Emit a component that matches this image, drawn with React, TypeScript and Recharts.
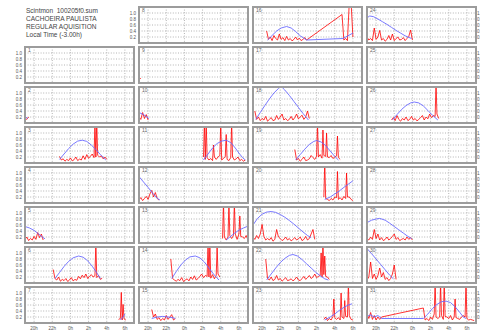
import { LineChart, Line, XAxis, YAxis, CartesianGrid } from "recharts";

type Seg = [number, number[]];
type Pt = [number, number];

// S4 samples every 0.2 h (hours after midnight written as 24+), tall spikes kept apart
const STEP = 0.2;
const HOUR_TICKS = [20, 22, 24, 26, 28, 30];
const S4_TICKS = [0.2, 0.4, 0.6, 0.8, 1.0];
const HEADER = ["Scintmon  100205f0.sum", "CACHOEIRA PAULISTA", "REGULAR AQUISITION", "Local Time (-3.00h)"];

const red2: Seg[] = [[19.0, [0.18, 0.12, 0.2]]];
const blue2: Pt[] = [[19.0, 0.22], [19.3, 0.15]];

const red3: Seg[] = [[22.8, [0.22, 0.1, 0.14, 0.06, 0.12, 0.08, 0.17, 0.07, 0.11, 0.2, 0.08, 0.13, 0.1, 0.24, 0.12, 0.28, 0.16, 0.22, 0.3, 0.18, 0.2, 0.26, 0.2, 0.24, 0.14, 0.2, 0.12]]];
const spikes3: Pt[] = [[26.7, 1.35], [26.9, 1.35]];
const blue3: Pt[] = [[22.8, 0.12], [23.3, 0.3], [23.8, 0.48], [24.3, 0.63], [24.8, 0.73], [25.3, 0.76], [25.8, 0.72], [26.3, 0.6], [26.8, 0.45], [27.3, 0.28], [27.9, 0.1]];

const red5: Seg[] = [[19.0, [0.12, 0.2, 0.08, 0.15, 0.1, 0.22, 0.12, 0.35, 0.18, 0.3, 0.1]]];
const blue5: Pt[] = [[19.0, 0.55], [19.5, 0.5], [20.0, 0.42], [20.5, 0.3], [21.0, 0.18], [21.2, 0.14]];

const red6: Seg[] = [[22.1, [0.45, 0.15, 0.1, 0.2, 0.06, 0.12, 0.08, 0.15, 0.05, 0.1, 0.18, 0.07, 0.12, 0.09, 0.22, 0.14, 0.26, 0.18, 0.3, 0.15, 0.22, 0.28, 0.2, 0.24, 0.18, 0.25, 0.12, 0.16]]];
const spikes6: Pt[] = [[26.8, 1.35]];
const blue6: Pt[] = [[22.3, 0.15], [22.8, 0.35], [23.3, 0.55], [23.8, 0.72], [24.3, 0.84], [24.9, 0.9], [25.4, 0.86], [25.9, 0.74], [26.4, 0.56], [26.9, 0.34], [27.3, 0.15]];

const red7: Seg[] = [[29.3, [0.12, 0.15, 0.1, 0.14, 0.1]]];
const spikes7: Pt[] = [[29.6, 1.02], [29.8, 0.62]];
const blue7: Pt[] = [[29.5, 0.1], [29.8, 0.2], [30.0, 0.3]];

const red9: Seg[] = [[19.0, [0.2, 0.14]]];

const red10: Seg[] = [[19.0, [0.2, 0.12, 0.35, 0.15, 0.28, 0.1]]];
const blue10: Pt[] = [[19.0, 0.35], [19.5, 0.28], [20.1, 0.15]];

const red11: Seg[] = [[26.1, [0.2, 0.12, 0.18, 0.1, 0.15, 0.08, 0.2, 0.12, 0.2, 0.25, 0.1, 0.15, 0.22, 0.12, 0.08, 0.18, 0.2, 0.1, 0.14, 0.2, 0.08, 0.12, 0.06, 0.1]]];
const spikes11: Pt[] = [[26.2, 1.35], [26.4, 1.35], [27.2, 0.6], [28.0, 1.35], [28.6, 0.95], [29.2, 1.35]];
const blue11: Pt[] = [[26.1, 0.1], [26.6, 0.3], [27.1, 0.5], [27.6, 0.65], [28.1, 0.73], [28.6, 0.76], [29.1, 0.68], [29.6, 0.5], [30.0, 0.33], [30.4, 0.18], [30.7, 0.1]];

const red12: Seg[] = [[19.0, [0.1, 0.18, 0.08, 0.15, 0.22, 0.12, 0.3, 0.42, 0.2, 0.35, 0.15, 0.1]]];
const blue12: Pt[] = [[19.0, 0.88], [19.5, 0.7], [20.0, 0.52], [20.5, 0.33], [21.0, 0.16], [21.3, 0.1]];

const red13: Seg[] = [[28.2, [0.15, 0.2, 0.1, 0.2, 0.25, 0.15, 0.25, 0.3, 0.12, 0.3, 0.22, 0.2, 0.15, 0.25, 0.1]]];
const spikes13: Pt[] = [[28.3, 1.35], [28.9, 1.35], [29.5, 1.35], [30.1, 0.9]];
const blue13: Pt[] = [[28.6, 0.1], [29.0, 0.2], [29.5, 0.32], [30.0, 0.43], [30.5, 0.5], [30.9, 0.55]];

const red14: Seg[] = [[22.5, [0.8, 0.15, 0.1, 0.06, 0.12, 0.08, 0.18, 0.05, 0.1, 0.14, 0.07, 0.2, 0.12, 0.24, 0.1, 0.15, 0.22, 0.3, 0.18, 0.25, 0.22, 0.2, 0.16, 0.28, 0.14, 0.25, 0.3, 0.2]]];
const spikes14: Pt[] = [[26.6, 1.35], [26.8, 1.35], [27.6, 1.2]];
const blue14: Pt[] = [[22.6, 0.15], [23.1, 0.38], [23.6, 0.6], [24.1, 0.76], [24.6, 0.87], [25.2, 0.9], [25.7, 0.84], [26.2, 0.7], [26.7, 0.5], [27.2, 0.3], [27.8, 0.1]];

const red15: Seg[] = [[20.4, [0.45, 0.2, 0.3, 0.12, 0.18, 0.08, 0.15, 0.1, 0.25, 0.12, 0.2, 0.28, 0.1, 0.15]]];
const blue15: Pt[] = [[20.4, 0.15], [21.0, 0.2], [21.6, 0.22], [22.2, 0.2], [22.8, 0.17], [23.0, 0.15]];

const red16: Seg[] = [
  [20.5, [0.4, 0.12, 0.2, 0.08, 0.25, 0.15, 0.1, 0.3, 0.12, 0.18, 0.08, 0.22, 0.1, 0.15, 0.07, 0.12, 0.2, 0.1, 0.16, 0.08, 0.12, 0.18, 0.1]],
  [28.8, [0.95, 0.1, 0.15, 0.08, 1.35, 1.35, 0.2]],
];
const blue16: Pt[] = [[20.6, 0.1], [21.1, 0.25], [21.6, 0.4], [22.1, 0.5], [22.7, 0.55], [23.2, 0.5], [23.7, 0.38], [24.2, 0.24], [24.9, 0.1], [28.9, 0.15], [30.0, 0.33]];

const red18: Seg[] = [[19.2, [0.4, 0.12, 0.2, 0.08, 0.15, 0.1, 0.22, 0.06, 0.12, 0.18, 0.08, 0.1, 0.25, 0.12, 0.2, 0.3, 0.1, 0.15, 0.08, 0.12, 0.22, 0.1, 0.18, 0.3, 0.14, 0.2, 0.26, 0.12, 0.2, 0.4, 0.15]]];
const blue18: Pt[] = [[19.3, 0.12], [19.8, 0.35], [20.3, 0.58], [20.8, 0.8], [21.3, 1.0], [21.8, 1.15], [22.1, 1.22], [22.5, 1.1], [23.0, 0.92], [23.5, 0.72], [24.0, 0.52], [24.5, 0.32], [25.1, 0.1]];

const red19: Seg[] = [[23.6, [0.45, 0.1, 0.15, 0.06, 0.12, 0.2, 0.08, 0.1, 0.14, 0.25, 0.18, 0.12, 0.22, 0.2, 0.28, 0.16, 0.25, 0.22, 0.2, 0.18, 0.25, 0.15, 0.2, 0.24, 0.18, 0.12]]];
const spikes19: Pt[] = [[26.1, 1.35], [26.7, 1.1], [27.1, 1.0], [28.3, 0.9]];
const blue19: Pt[] = [[23.7, 0.1], [24.2, 0.28], [24.7, 0.46], [25.2, 0.62], [25.7, 0.72], [26.0, 0.75], [26.5, 0.7], [27.0, 0.58], [27.5, 0.4], [28.0, 0.22], [28.4, 0.1]];

const red20: Seg[] = [[26.8, [0.2, 0.15, 0.12, 0.08, 0.15, 0.1, 0.2, 0.18, 0.12, 0.18, 0.1, 0.22, 0.15, 0.2, 0.2, 0.12, 0.08]]];
const spikes20: Pt[] = [[26.9, 1.35], [28.3, 1.05], [29.3, 1.0]];
const blue20: Pt[] = [[26.9, 0.12], [27.5, 0.2], [28.0, 0.3], [28.5, 0.4], [29.0, 0.52], [29.5, 0.63], [30.0, 0.74]];

const red21: Seg[] = [[19.0, [0.2, 0.12, 0.25, 0.15, 0.3, 0.62, 0.22, 0.1, 0.15, 0.1, 0.18, 0.06, 0.12, 0.45, 0.2, 0.15, 0.08, 0.12, 0.2, 0.1, 0.15, 0.07, 0.12, 0.18, 0.1, 0.14, 0.2, 0.08, 0.12, 0.22, 0.1, 0.15, 0.3, 0.45, 0.12]]];
const blue21: Pt[] = [[19.0, 0.6], [19.5, 0.82], [20.0, 0.96], [20.5, 1.03], [21.0, 1.05], [21.5, 1.02], [22.0, 0.95], [22.5, 0.86], [23.0, 0.75], [23.5, 0.63], [24.0, 0.5], [24.5, 0.37], [25.0, 0.25], [25.4, 0.18]];

const red22: Seg[] = [[20.4, [0.8, 0.15, 0.1, 0.2, 0.08, 0.12, 0.25, 0.1, 0.15, 0.06, 0.12, 0.18, 0.08, 0.1, 0.14, 0.07, 0.12, 0.2, 0.1, 0.08, 0.15, 0.22, 0.12, 0.18, 0.25, 0.15, 0.2, 0.3, 0.18, 0.22, 0.25, 0.2, 0.28, 0.22, 0.2, 0.12]]];
const spikes22: Pt[] = [[26.5, 1.0], [26.7, 1.35], [26.9, 0.9]];
const blue22: Pt[] = [[20.5, 0.1], [21.0, 0.3], [21.5, 0.5], [22.0, 0.68], [22.5, 0.82], [23.0, 0.92], [23.4, 0.95], [23.9, 0.9], [24.4, 0.78], [24.9, 0.64], [25.4, 0.5], [25.9, 0.36], [26.4, 0.24], [26.9, 0.14], [27.3, 0.1]];

const red23: Seg[] = [[26.8, [0.12, 0.2, 0.08, 0.15, 0.1, 0.22, 0.18, 0.12, 0.18, 0.1, 0.2, 0.15, 0.22, 0.2, 0.25, 0.12, 0.1]]];
const spikes23: Pt[] = [[27.9, 0.8], [28.7, 1.0], [29.1, 0.75], [29.5, 1.35]];
const blue23: Pt[] = [[26.9, 0.1], [27.5, 0.2], [28.0, 0.3], [28.5, 0.42], [29.0, 0.52], [29.5, 0.6], [29.9, 0.64]];

const red24: Seg[] = [[19.0, [0.2, 0.1, 0.15, 0.08, 0.5, 0.12, 0.2, 0.42, 0.1, 0.15, 0.06, 0.12, 0.25, 0.1, 0.3, 0.08, 0.15, 0.2, 0.1, 0.12, 0.18, 0.08, 0.15, 0.22, 0.43, 0.1]]];
const blue24: Pt[] = [[19.0, 0.84], [19.3, 0.9], [19.7, 0.88], [20.2, 0.8], [20.7, 0.71], [21.2, 0.62], [21.7, 0.52], [22.2, 0.42], [22.7, 0.33], [23.2, 0.24], [23.9, 0.15]];

const red26: Seg[] = [[21.7, [0.1, 0.18, 0.08, 0.25, 0.12, 0.06, 0.15, 0.1, 0.2, 0.08, 0.12, 0.22, 0.1, 0.15, 0.07, 0.12, 0.18, 0.25, 0.1, 0.2, 0.14, 0.3, 0.18, 0.25, 0.22, 0.3, 0.15]]];
const spikes26: Pt[] = [[26.6, 1.35]];
const blue26: Pt[] = [[21.8, 0.1], [22.3, 0.28], [22.8, 0.45], [23.3, 0.58], [23.8, 0.67], [24.2, 0.7], [24.7, 0.67], [25.2, 0.57], [25.7, 0.42], [26.2, 0.26], [26.8, 0.1]];

const red29: Seg[] = [[19.0, [0.15, 0.1, 0.2, 0.12, 0.45, 0.15, 0.3, 0.1, 0.18, 0.08, 0.12, 0.2, 0.1, 0.15, 0.22, 0.3, 0.12, 0.18, 0.08, 0.12, 0.15, 0.1, 0.2, 0.12, 0.18, 0.1]]];
const blue29: Pt[] = [[19.0, 0.68], [19.5, 0.76], [20.0, 0.8], [20.4, 0.82], [21.0, 0.76], [21.5, 0.66], [22.0, 0.55], [22.5, 0.44], [23.0, 0.33], [23.5, 0.22], [23.9, 0.15]];

const red30: Seg[] = [[19.0, [0.1, 0.2, 0.7, 0.15, 0.3, 0.12, 0.25, 0.5, 0.2, 0.35, 0.12, 0.18, 0.08, 0.15, 0.3, 0.6, 0.12]]];
const blue30: Pt[] = [[19.0, 1.15], [19.5, 0.98], [20.0, 0.8], [20.5, 0.62], [21.0, 0.44], [21.5, 0.26], [21.9, 0.14]];

const red31: Seg[] = [
  [19.0, [0.3, 0.15, 0.35, 0.12, 0.25, 0.1, 0.2, 0.12, 0.2]],
  [25.2, [0.5, 0.1, 0.15, 0.08, 0.2, 0.12, 0.3, 0.2, 0.15, 0.2, 0.25, 0.12, 0.22, 0.2, 0.15, 0.25, 0.1, 0.2, 0.18, 0.15, 0.12, 0.2, 0.25, 0.2, 0.15, 0.1, 0.12, 0.1, 0.08]],
];
const spikes31: Pt[] = [[26.5, 1.35], [27.1, 1.35], [27.5, 1.35], [28.7, 0.8], [29.9, 1.35]];
const blue31: Pt[] = [[19.0, 0.22], [19.4, 0.27], [19.8, 0.2], [20.2, 0.25], [20.6, 0.15], [25.2, 0.15], [25.7, 0.3], [26.2, 0.48], [26.7, 0.62], [27.2, 0.71], [27.7, 0.73], [28.2, 0.68], [28.7, 0.54], [29.2, 0.36], [29.6, 0.2], [29.9, 0.15]];

const PANELS: Record<number, { red?: Seg[]; spikes?: Pt[]; blue?: Pt[] }> = {
  2: { red: red2, blue: blue2 }, 3: { red: red3, spikes: spikes3, blue: blue3 }, 5: { red: red5, blue: blue5 },
  6: { red: red6, spikes: spikes6, blue: blue6 }, 7: { red: red7, spikes: spikes7, blue: blue7 }, 9: { red: red9 },
  10: { red: red10, blue: blue10 }, 11: { red: red11, spikes: spikes11, blue: blue11 }, 12: { red: red12, blue: blue12 },
  13: { red: red13, spikes: spikes13, blue: blue13 }, 14: { red: red14, spikes: spikes14, blue: blue14 },
  15: { red: red15, blue: blue15 }, 16: { red: red16, blue: blue16 }, 18: { red: red18, blue: blue18 },
  19: { red: red19, spikes: spikes19, blue: blue19 }, 20: { red: red20, spikes: spikes20, blue: blue20 },
  21: { red: red21, blue: blue21 }, 22: { red: red22, spikes: spikes22, blue: blue22 },
  23: { red: red23, spikes: spikes23, blue: blue23 }, 24: { red: red24, blue: blue24 },
  26: { red: red26, spikes: spikes26, blue: blue26 }, 29: { red: red29, blue: blue29 },
  30: { red: red30, blue: blue30 }, 31: { red: red31, spikes: spikes31, blue: blue31 },
};

const toSeries = (segs: Seg[], spikes: Pt[] = []) =>
  segs
    .flatMap(([t0, vs]) => vs.map((v, i) => ({ t: Math.round((t0 + i * STEP) * 100) / 100, v })))
    .concat(spikes.map(([t, v]) => ({ t, v })))
    .sort((a, b) => a.t - b.t);
const toPts = (pts: Pt[]) => pts.map(([t, v]) => ({ t, v }));
const hourLabel = (h: number) => `${h >= 24 ? h - 24 : h}h`;

const FONT = "'Liberation Sans', Arial, sans-serif";
const COL_X = [25, 139, 253, 367];
const ROW_Y = [7, 47, 87, 127, 167, 207, 247, 287];
const PW = 109;
const PH = 36;
const AXW = 14;
const AXH = 9;

function Panel({ n }: { n: number }) {
  const col = n <= 7 ? 0 : Math.floor((n - 8) / 8) + 1;
  const row = n <= 7 ? n : (n - 8) % 8;
  const px = COL_X[col];
  const py = ROW_Y[row];
  const left = col === 0 || n === 8;
  const right = col === 3;
  const bottom = row === 7;
  const w = PW + (left || right ? AXW : 0);
  const h = PH + (bottom ? AXH : 0);
  const d = PANELS[n] || {};
  const tickStyle = { fontSize: 4.5, fill: "#555", fontFamily: FONT };

  return (
    <>
      <div style={{ position: "absolute", left: left ? px - AXW : px, top: py }}>
        <LineChart width={w} height={h} margin={{ top: 0, right: 0, bottom: 0, left: 0 }}>
          <CartesianGrid stroke="#b4b4b4" strokeDasharray="1 1.6" horizontalValues={S4_TICKS} verticalValues={HOUR_TICKS} />
          <XAxis
            type="number"
            dataKey="t"
            domain={[19, 31]}
            ticks={HOUR_TICKS}
            allowDataOverflow
            hide={!bottom}
            height={AXH}
            axisLine={false}
            tickLine={false}
            tickSize={2}
            interval={0}
            tickFormatter={hourLabel}
            tick={tickStyle}
          />
          <YAxis
            type="number"
            domain={[0, 1.2]}
            ticks={S4_TICKS}
            allowDataOverflow
            hide={!left && !right}
            orientation={right ? "right" : "left"}
            width={AXW}
            axisLine={false}
            tickLine={false}
            tickSize={right ? 1 : 2}
            tickMargin={right ? 0 : 1}
            interval={0}
            tickFormatter={(v: number) => v.toFixed(1)}
            tick={tickStyle}
          />
          {d.red && (
            <Line data={toSeries(d.red, d.spikes)} dataKey="v" stroke="#ff0000" strokeWidth={0.8} dot={false} isAnimationActive={false} />
          )}
          {d.blue && (
            <Line data={toPts(d.blue)} dataKey="v" stroke="#6a6aff" strokeWidth={0.9} dot={false} isAnimationActive={false} />
          )}
        </LineChart>
      </div>
      <div
        style={{
          position: "absolute",
          left: px - 1,
          top: py - 1,
          width: PW + 2,
          height: PH + 2,
          border: "2px solid #9c9c9c",
          boxSizing: "border-box",
          pointerEvents: "none",
        }}
      />
      <div style={{ position: "absolute", left: px + 3, top: py + 1, fontSize: 5, lineHeight: "5px", color: "#666", fontFamily: FONT }}>
        {n}
      </div>
    </>
  );
}

export default function App() {
  const ids = Array.from({ length: 31 }, (_, i) => i + 1);
  return (
    <div style={{ position: "absolute", left: 0, top: 0, width: 480, height: 330, background: "#fff", overflow: "hidden" }}>
      <div style={{ position: "absolute", left: 26, top: 7, fontFamily: FONT, fontSize: 6.5, lineHeight: "8px", color: "#444", whiteSpace: "pre" }}>
        {HEADER.map((s) => (
          <div key={s}>{s}</div>
        ))}
      </div>
      {ids.map((n) => (
        <Panel key={n} n={n} />
      ))}
    </div>
  );
}
